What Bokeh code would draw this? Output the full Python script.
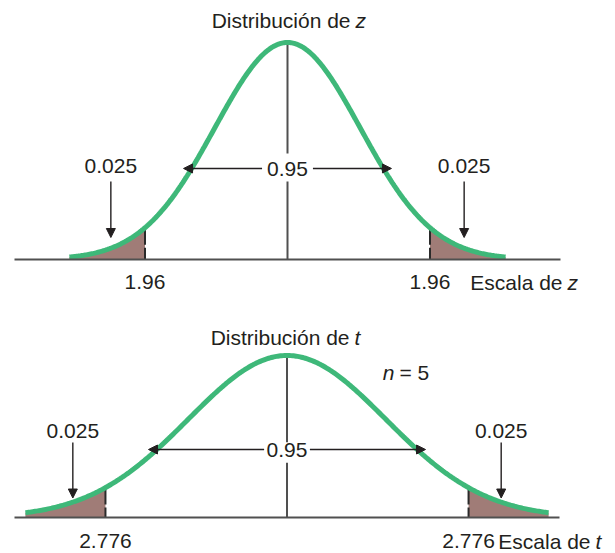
import numpy as np
from bokeh.plotting import figure
from bokeh.layouts import column
from bokeh.models import LinearAxis, FixedTicker, Label, Arrow, NormalHead
from bokeh.embed import file_html
from bokeh.resources import INLINE

# ---------------- data ----------------
z_limits = [-3.0, 3.0]
z_critical = 1.96
z_tick_labels = ["1.96", "1.96"]

t_limits = [-4.0, 4.0]
t_critical = 2.776
t_tick_labels = ["2.776", "2.776"]
t_peak_density = 0.375      # density of t (4 d.f.) at 0
t_drawn_spread = 1.51       # spread of the bell as drawn in the figure

tail_label = "0.025"
center_label = "0.95"
sample_label = ["n", "= 5"]
title_texts = ["Distribución de", "Distribución de"]
title_vars = ["z", "t"]
scale_texts = ["Escala de", "Escala de"]

# ---------------- style ----------------
FONT = "Liberation Sans"
FS = "21px"
GREEN = "#3eb879"
SHADE = "#a07c77"
GRAY = "#505050"
INK = "#231f20"


def z_density(x):
    return np.exp(-np.asarray(x) ** 2 / 2) / np.sqrt(2 * np.pi)


def t_density(x):
    return t_peak_density * np.exp(-(np.asarray(x) / t_drawn_spread) ** 2 / 2)


def lab(p, x, y, text, align="center", italic=False):
    p.add_layout(Label(x=x, y=y, text=text, text_align=align, text_baseline="middle",
                       text_font=FONT, text_font_size=FS, text_color=INK,
                       text_font_style="italic" if italic else "normal"))


def arrow(p, x0, y0, x1, y1):
    p.add_layout(Arrow(x_start=x0, y_start=y0, x_end=x1, y_end=y1,
                       line_color=INK, line_width=1.4,
                       end=NormalHead(size=9, fill_color=INK, line_color=INK, line_width=1)))


def panel(height, xr, yr, limits, crit, dens, ticks, var, L):
    p = figure(width=615, height=height, x_range=xr, y_range=yr,
               output_backend="svg", toolbar_location=None,
               x_axis_location=None, y_axis_location=None, min_border=0)
    p.outline_line_color = None
    p.grid.visible = False
    p.background_fill_color = "white"
    p.border_fill_color = "white"

    xs = np.linspace(limits[0], limits[1], 401)
    ys = dens(xs)
    peak = float(dens(0.0))
    yc = float(dens(crit))

    # shaded tails
    tl = np.linspace(limits[0], -crit, 120)
    tr = np.linspace(crit, limits[1], 120)
    p.varea(x=tl, y1=0, y2=dens(tl), fill_color=SHADE, fill_alpha=1)
    p.varea(x=tr, y1=0, y2=dens(tr), fill_color=SHADE, fill_alpha=1)
    # critical value lines
    p.segment(x0=[-crit, crit], y0=[yc, yc], x1=[-crit, crit], y1=[0, 0],
              line_color="#2a2a2a", line_width=2, line_dash="17 3 60")
    # centre line with gap for label
    p.segment(x0=[0, 0], y0=[0, L["gap"][1]], x1=[0, 0], y1=[L["gap"][0], peak],
              line_color=GRAY, line_width=2)
    # curve
    p.line(xs, ys, line_color=GREEN, line_width=5)

    # baseline axis
    ax = LinearAxis(fixed_location=0, bounds=(-L["bound"], L["bound"]),
                    ticker=FixedTicker(ticks=[-crit, crit]),
                    major_label_overrides={-crit: ticks[0], crit: ticks[1]},
                    axis_line_color=GRAY, axis_line_width=2,
                    major_tick_line_color=None, minor_tick_line_color=None,
                    major_label_text_font=FONT, major_label_text_font_size=FS,
                    major_label_text_color=INK, major_label_standoff=L["standoff"])
    p.add_layout(ax, "below")

    # central 0.95 with arrows
    lab(p, 0, L["c_mid"], center_label)
    arrow(p, -L["hgap"], L["arrow_y"], -L["tip"], L["arrow_y"])
    arrow(p, L["hgap"], L["arrow_y"], L["tip"], L["arrow_y"])

    # tail labels with arrows
    for s in (-1, 1):
        lab(p, s * L["tail_x"], L["tail_mid"], tail_label)
        arrow(p, s * L["tail_x"], L["tail_a"][0], s * L["tail_x"], L["tail_a"][1])

    # title
    lab(p, L["title_x"][0], L["title_mid"], title_texts[L["i"]], align="right")
    lab(p, L["title_x"][1], L["title_mid"], title_vars[L["i"]], align="left", italic=True)
    # scale label
    lab(p, L["scale_x"][0], L["scale_mid"], scale_texts[L["i"]], align="right")
    lab(p, L["scale_x"][1], L["scale_mid"], var, align="left", italic=True)
    return p


top_layout = dict(i=0, gap=(0.1434, 0.1949), bound=3.755, standoff=10,
                  c_mid=0.1664, arrow_y=0.1673, hgap=0.35, tip=1.43,
                  tail_x=2.43, tail_mid=0.1710, tail_a=(0.1434, 0.0404),
                  title_x=(0.867, 0.935), title_mid=0.4393,
                  scale_x=(3.783, 3.851), scale_mid=-0.0432)
p1 = panel(300, (-3.948, 4.512), (-0.0754, 0.4761), z_limits, z_critical,
           z_density, z_tick_labels, title_vars[0], top_layout)

bot_layout = dict(i=1, gap=(0.127, 0.174), bound=4.167, standoff=10,
                  c_mid=0.1574, arrow_y=0.1574, hgap=0.35, tip=2.118,
                  tail_x=3.275, tail_mid=0.2002, tail_a=(0.1736, 0.0451),
                  title_x=(0.956, 1.032), title_mid=0.4178,
                  scale_x=(4.641, 4.717), scale_mid=-0.0556)
p2 = panel(253, (-4.381, 5.023), (-0.0833, 0.5023), t_limits, t_critical,
           t_density, t_tick_labels, title_vars[1], bot_layout)
lab(p2, 1.644, 0.3356, sample_label[0], align="right", italic=True)
lab(p2, 1.720, 0.3356, sample_label[1], align="left")

page = column(p1, p2)
open("out.html", "w").write(file_html(page, INLINE))
